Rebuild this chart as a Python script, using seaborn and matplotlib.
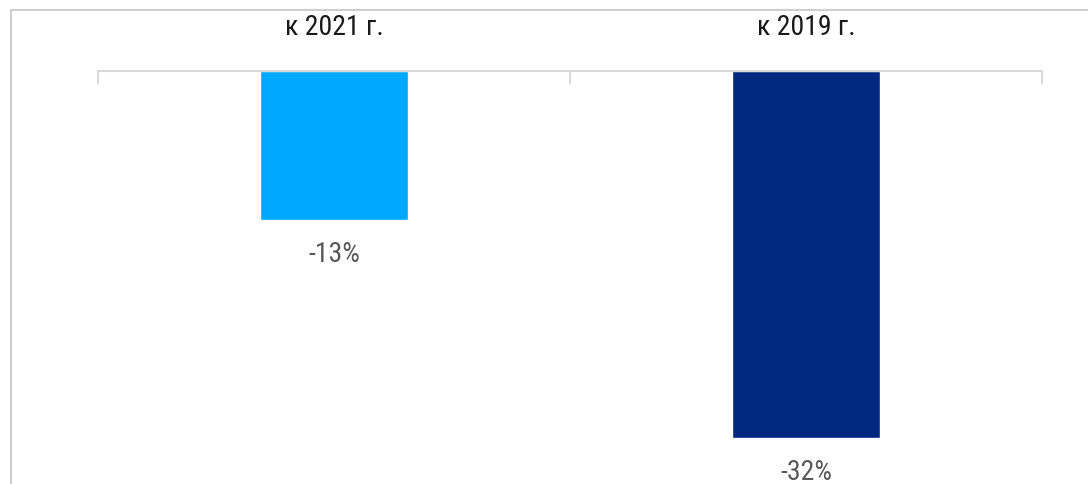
import matplotlib
matplotlib.use("Agg")
import matplotlib.pyplot as plt
from matplotlib.lines import Line2D
import seaborn as sns
import pandas as pd

categories = ["к 2021 г.", "к 2019 г."]
values = [-13, -32]
bar_colors = ["#00A8FF", "#00287F"]

sns.set_theme(style="white")
plt.rcParams["font.family"] = ["Roboto Condensed", "DejaVu Sans"]

W, H = 1088, 485
fig = plt.figure(figsize=(W / 100, H / 100), dpi=100)
ax = fig.add_axes([98 / W, 0, (1042 - 98) / W, 1 - 72 / H])

df = pd.DataFrame({"cat": categories, "val": values})
sns.barplot(data=df, x="cat", y="val", hue="cat", palette=bar_colors,
            width=0.314, legend=False, ax=ax, saturation=1)

ax.set_xlim(-0.5, 1.5)
ax.set_ylim(-36.0, 0)
ax.set_xlabel("")
ax.set_ylabel("")
ax.set_yticks([])

for s in ["left", "right", "bottom"]:
    ax.spines[s].set_visible(False)
ax.spines["top"].set_color("#D9D9D9")
ax.spines["top"].set_linewidth(1.5)

# category names above the zero line, separators pointing down
ax.xaxis.tick_top()
ax.set_xticks([0, 1])
ax.set_xticklabels(categories, fontsize=20, color="#1A1A1A")
ax.tick_params(axis="x", which="major", length=0, pad=22)
ax.set_xticks([-0.5, 0.5, 1.5], minor=True)
ax.tick_params(axis="x", which="minor", direction="in", length=9,
               width=1.5, color="#D9D9D9", top=True, bottom=False)

for i, v in enumerate(values):
    ax.text(i, v - 1.7, f"{v}%", ha="center", va="top", fontsize=20,
            color="#595959", clip_on=False)

# outer frame
fig.add_artist(Line2D([10.5 / W, 10.5 / W], [0, 1 - 10.5 / H],
                      transform=fig.transFigure, color="#CFCFCF", lw=1.5))
fig.add_artist(Line2D([10.5 / W, 1], [1 - 10.5 / H, 1 - 10.5 / H],
                      transform=fig.transFigure, color="#CFCFCF", lw=1.5))

fig.savefig("out.png", dpi=100)
